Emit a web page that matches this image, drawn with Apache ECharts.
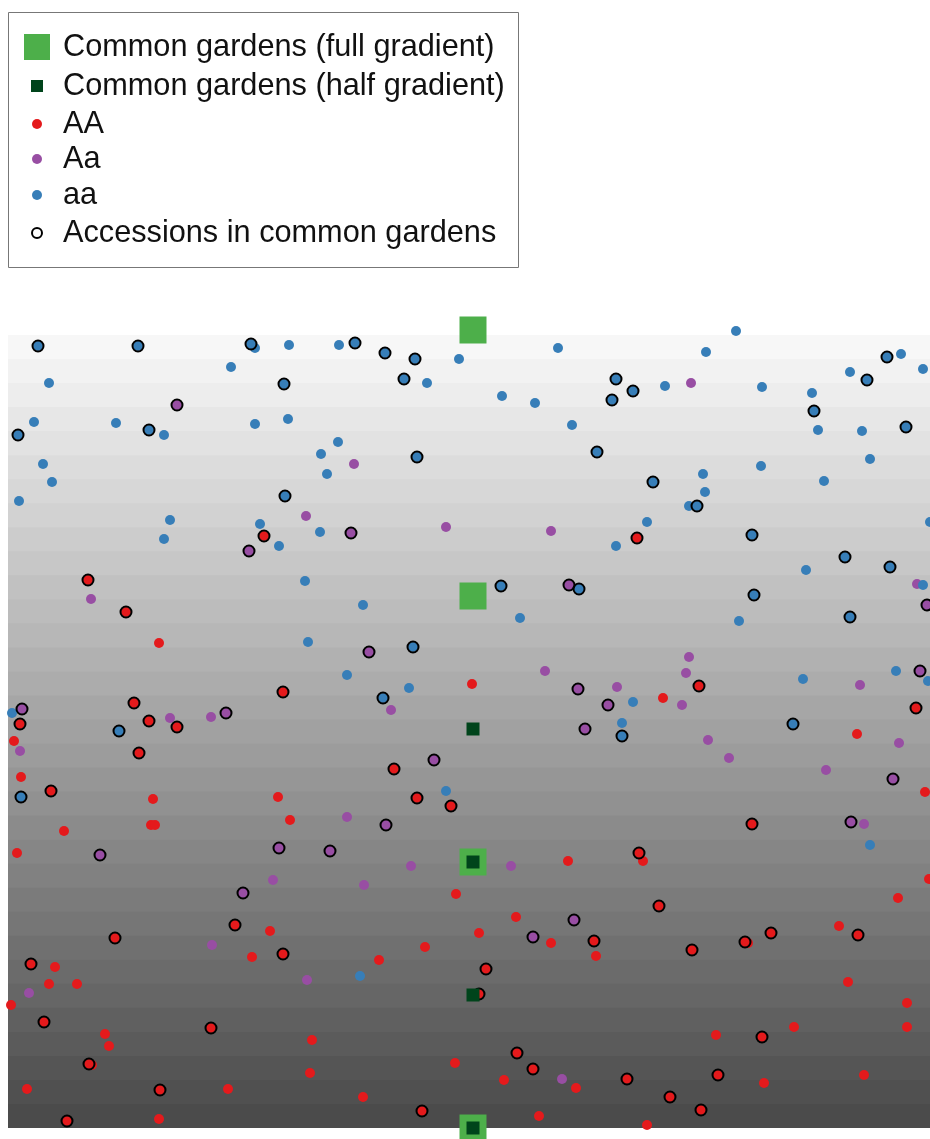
<!DOCTYPE html>
<html>
<head>
<meta charset="utf-8">
<script src="https://cdn.jsdelivr.net/npm/echarts@6/dist/echarts.min.js"></script>
<style>
  html, body { margin: 0; padding: 0; background: #fff; }
  #chart { width: 930px; height: 1139px; }
</style>
</head>
<body>
<div id="chart"></div>
<script>
// Field positions [x, y] in field units; y runs from the bottom (0) to the top of the gradient.

// Genotype AA: plants outside the gardens, and accessions grown in the common gardens
const AA_other = [
  [15.1,48.5],[46.4,44.4],[65.5,43.0],[0.6,38.7],[84.9,39.4],[1.3,35.1],[14.5,32.9],[27.0,33.1],
  [91.7,33.6],[28.2,30.8],[14.3,30.3],[14.7,30.3],[5.6,29.7],[0.9,27.5],[56.0,26.7],[63.5,26.7],
  [92.1,24.9],[44.8,23.4],[89.0,23.0],[50.8,21.1],[26.2,19.7],[24.4,17.1],[4.7,16.1],[4.1,14.4],
  [6.9,14.4],[0.3,12.3],[47.1,19.5],[54.3,18.5],[58.8,17.2],[41.7,18.1],[37.1,16.8],[83.1,20.2],
  [74.0,18.5],[84.0,14.6],[89.9,12.5],[89.9,10.1],[78.6,10.1],[70.8,9.3],[9.7,9.4],[10.1,8.2],
  [8.4,6.3],[30.4,8.8],[30.2,5.5],[44.7,6.5],[49.6,4.8],[56.8,4.0],[1.9,3.9],[22.0,3.9],
  [15.1,0.9],[35.5,3.1],[53.1,1.2],[75.6,4.5],[85.6,5.3],[63.9,0.3]
];
const AA_accessions = [
  [25.6,59.2],[62.9,59.0],[8.0,54.8],[11.8,51.6],[27.5,43.6],[12.6,42.5],[69.1,44.2],[90.8,42.0],
  [1.2,40.4],[14.1,40.7],[16.9,40.1],[13.1,37.5],[4.3,33.7],[38.6,35.9],[40.9,33.0],[44.3,32.2],
  [74.4,30.4],[63.1,27.5],[65.1,22.2],[22.7,20.3],[27.5,17.4],[10.7,19.0],[2.3,16.4],[3.6,10.6],
  [20.3,10.0],[8.1,6.4],[15.2,3.8],[5.9,0.7],[58.6,18.7],[47.8,15.9],[47.1,13.4],[50.9,7.5],
  [52.5,5.9],[41.4,1.7],[68.4,17.8],[73.7,18.6],[76.3,19.5],[85.0,19.3],[75.4,9.1],[61.9,4.9],
  [71.0,5.3],[66.2,3.1],[69.3,1.8]
];

// Genotype Aa
const Aa_other = [
  [29.8,61.2],[34.6,66.4],[43.8,60.1],[54.3,59.7],[68.3,74.5],[8.3,52.9],[16.2,41.0],[20.3,41.1],
  [38.3,41.8],[53.7,45.7],[60.9,44.1],[68.1,47.1],[67.8,45.5],[67.4,42.3],[90.9,54.4],[85.2,44.3],
  [1.2,37.7],[70.0,38.8],[72.1,37.0],[89.1,38.5],[81.8,35.8],[85.6,30.4],[33.9,31.1],[40.3,26.2],
  [50.3,26.2],[26.5,24.8],[35.6,24.3],[20.4,18.3],[29.9,14.8],[2.1,13.5],[55.4,4.9]
];
const Aa_accessions = [
  [16.9,72.3],[24.1,57.7],[34.3,59.5],[56.1,54.3],[36.1,47.6],[57.0,43.9],[60.0,42.3],[91.9,52.3],
  [91.2,45.7],[1.4,41.9],[21.8,41.5],[57.7,39.9],[42.6,36.8],[88.5,34.9],[84.3,30.6],[37.8,30.3],
  [32.2,27.7],[9.2,27.3],[27.1,28.0],[23.5,23.5],[56.6,20.8],[52.5,19.1]
];

// Genotype aa
const aa_other = [
  [24.7,78.0],[28.1,78.3],[22.3,76.1],[4.1,74.5],[2.6,70.6],[10.8,70.5],[15.6,69.3],[24.7,70.4],
  [28.0,70.9],[3.5,66.4],[4.4,64.6],[1.1,62.7],[16.2,60.8],[25.2,60.4],[33.1,78.3],[45.1,76.9],
  [41.9,74.5],[55.0,78.0],[49.4,73.2],[52.7,72.5],[56.4,70.3],[33.0,68.6],[31.3,67.4],[31.9,65.4],
  [72.8,79.7],[69.8,77.6],[65.7,74.2],[75.4,74.1],[80.4,73.5],[81.0,69.8],[85.4,69.7],[84.2,75.6],
  [89.3,77.4],[91.5,75.9],[86.2,66.9],[81.6,64.7],[75.3,66.2],[69.5,65.4],[69.7,63.6],[68.1,62.2],
  [63.9,60.6],[92.2,60.6],[15.6,58.9],[27.1,58.2],[29.7,54.7],[30.0,48.6],[31.2,59.6],[60.8,58.2],
  [35.5,52.3],[51.2,51.0],[33.9,45.3],[40.1,44.0],[79.8,55.8],[91.5,54.3],[73.1,50.7],[62.5,42.6],
  [79.5,44.9],[88.8,45.7],[92.0,44.7],[0.4,41.5],[61.4,40.5],[43.8,33.7],[86.2,28.3],[35.2,15.2]
];
const aa_accessions = [
  [3.0,78.2],[13.0,78.2],[24.3,78.4],[27.6,74.4],[14.1,69.8],[1.0,69.3],[27.7,63.2],[34.7,78.5],
  [37.7,77.5],[40.7,76.9],[39.6,74.9],[60.8,74.9],[60.4,72.8],[58.9,67.6],[40.9,67.1],[62.5,73.7],
  [80.6,71.7],[89.8,70.1],[85.9,74.8],[87.9,77.1],[64.5,64.6],[68.9,62.2],[74.4,59.3],[83.7,57.1],
  [88.2,56.1],[74.6,53.3],[84.2,51.1],[49.3,54.2],[57.1,53.9],[40.5,48.1],[37.5,43.0],[78.5,40.4],
  [11.1,39.7],[61.4,39.2],[1.3,33.1]
];

// Common garden sites along the transect
const gardensFull = [[46.5,0],[46.5,26.6],[46.5,53.2],[46.5,79.8]];
const gardensHalf = [[46.5,0],[46.5,13.3],[46.5,26.6],[46.5,39.9]];

const legendLabels = [
  'Common gardens (full gradient)',
  'Common gardens (half gradient)',
  'AA',
  'Aa',
  'aa',
  'Accessions in common gardens'
];

// ---- styling ----
const X_MAX = 92.2, Y_MAX = 79.3;
const BAND_COUNT = 33;
const COLORS = {
  full: '#4daf4a', half: '#00441b',
  AA: '#e41a1c', Aa: '#984ea3', aa: '#377eb8'
};
const FONT = '30.7px "Liberation Sans", Arial, sans-serif';

// Stepped grey gradient: light at the top, dark at the bottom.
// Each band overlaps the next one slightly so no seams show between them.
function gradientBands() {
  const bands = [];
  const step = Y_MAX / BAND_COUNT;
  for (let i = 0; i < BAND_COUNT; i++) {
    const y0 = step * i;
    const y1 = i === BAND_COUNT - 1 ? Y_MAX : step * (i + 1) + 0.15;
    const t = (i + 0.5) / BAND_COUNT;
    const g = Math.round(72 + (250 - 72) * t);
    bands.push([{ yAxis: y0, itemStyle: { color: `rgb(${g},${g},${g})` } }, { yAxis: y1 }]);
  }
  return bands;
}

function dotSeries(name, color, points) {
  return {
    name, type: 'scatter', clip: false, symbol: 'circle', symbolSize: 10,
    itemStyle: { color, opacity: 1 }, data: points, silent: true
  };
}

// Hand-built legend box
const legendRows = [47, 86, 124, 159, 195, 233];
const ICON_X = 37, TEXT_X = 63;
const legendIcons = [
  { type: 'rect', shape: { x: ICON_X - 13, y: legendRows[0] - 13, width: 26, height: 26 }, style: { fill: COLORS.full } },
  { type: 'rect', shape: { x: ICON_X - 6, y: legendRows[1] - 6, width: 12, height: 12 }, style: { fill: COLORS.half } },
  { type: 'circle', shape: { cx: ICON_X, cy: legendRows[2], r: 5 }, style: { fill: COLORS.AA } },
  { type: 'circle', shape: { cx: ICON_X, cy: legendRows[3], r: 5 }, style: { fill: COLORS.Aa } },
  { type: 'circle', shape: { cx: ICON_X, cy: legendRows[4], r: 5 }, style: { fill: COLORS.aa } },
  { type: 'circle', shape: { cx: ICON_X, cy: legendRows[5], r: 5 }, style: { fill: '#fff', stroke: '#000', lineWidth: 2 } }
];
const legendTexts = legendLabels.map((label, i) => ({
  type: 'text',
  style: {
    text: label, x: TEXT_X, y: legendRows[i] + 1, font: FONT, fill: '#111',
    verticalAlign: 'middle', textVerticalAlign: 'middle'
  }
}));

const chart = echarts.init(document.getElementById('chart'), null, { renderer: 'canvas' });
chart.setOption({
  animation: false,
  backgroundColor: '#fff',
  grid: { left: 8, right: 0, top: 335, bottom: 11, containLabel: false },
  xAxis: { type: 'value', min: 0, max: X_MAX, show: false, splitLine: { show: false } },
  yAxis: { type: 'value', min: 0, max: Y_MAX, show: false, splitLine: { show: false } },
  graphic: [
    { type: 'rect', shape: { x: 8.5, y: 12.5, width: 510, height: 255 },
      style: { fill: '#fff', stroke: '#777', lineWidth: 1 } },
    ...legendIcons,
    ...legendTexts
  ],
  series: [
    {
      name: 'gradient', type: 'scatter', data: [], silent: true,
      markArea: { silent: true, data: gradientBands() }
    },
    dotSeries(legendLabels[2], COLORS.AA, AA_other.concat(AA_accessions)),
    dotSeries(legendLabels[3], COLORS.Aa, Aa_other.concat(Aa_accessions)),
    dotSeries(legendLabels[4], COLORS.aa, aa_other.concat(aa_accessions)),
    {
      name: legendLabels[5], type: 'scatter', clip: false, symbol: 'circle', symbolSize: 11, silent: true,
      itemStyle: { color: 'rgba(0,0,0,0)', borderColor: '#000', borderWidth: 2, opacity: 1 },
      data: AA_accessions.concat(Aa_accessions, aa_accessions)
    },
    {
      name: legendLabels[0], type: 'scatter', clip: false, symbol: 'rect', symbolSize: 27, silent: true,
      itemStyle: { color: COLORS.full, opacity: 1 }, data: gardensFull
    },
    {
      name: legendLabels[1], type: 'scatter', clip: false, symbol: 'rect', symbolSize: 13, silent: true,
      itemStyle: { color: COLORS.half, opacity: 1 }, data: gardensHalf
    }
  ]
});
</script>
</body>
</html>
